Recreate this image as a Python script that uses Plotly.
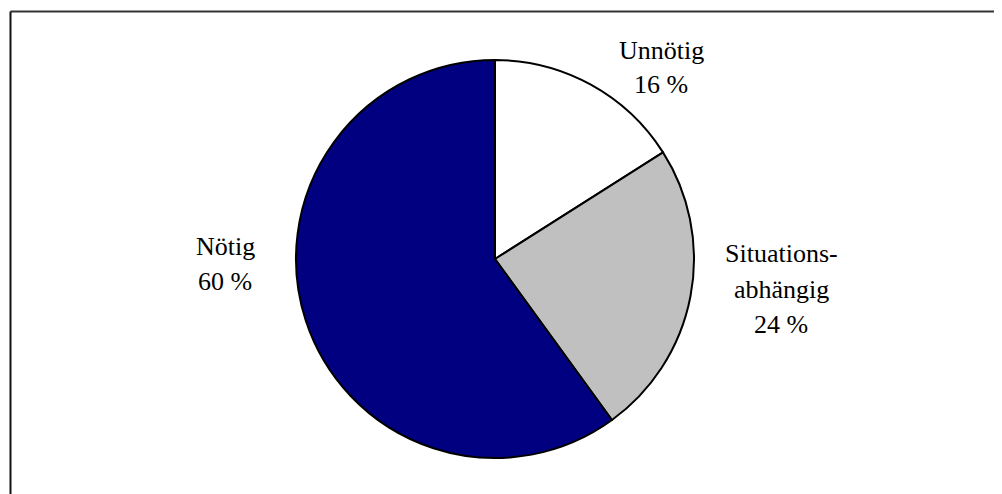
import plotly.graph_objects as go

categories = ["Unnötig", "Situationsabhängig", "Nötig"]
label_lines = [["Unnötig"], ["Situations-", "abhängig"], ["Nötig"]]
values = [16, 24, 60]
colors = ["#FFFFFF", "#C0C0C0", "#000080"]

W, H = 1002, 494
OFF = 8  # page body margin offset
cx, cy, r = 495 - OFF, 259 - OFF, 199

fig = go.Figure()
fig.add_trace(go.Pie(
    labels=categories, values=values, sort=False, direction="clockwise",
    rotation=0, textinfo="none", hoverinfo="skip",
    marker=dict(colors=colors, line=dict(color="#000000", width=2)),
    domain=dict(x=[(cx - r) / W, (cx + r) / W], y=[(H - cy - r) / H, (H - cy + r) / H]),
    showlegend=False,
))

# label anchor positions (pixel centre of first line) and line spacing
label_pos = [(661, 50), (781, 254), (225, 246)]
spacing = 35
font = dict(family="Liberation Serif, Times New Roman, serif", size=26, color="#000000")
anns = []
for lines, v, (x, y) in zip(label_lines, values, label_pos):
    all_lines = lines + [f"{v} %"]
    for i, t in enumerate(all_lines):
        anns.append(dict(text=t, x=(x - OFF) / W, y=1 - (y - OFF + i * spacing) / H,
                         xref="paper", yref="paper",
                         xanchor="center", yanchor="middle", showarrow=False, font=font))

fx, fy = 10.5 - OFF, 11.5 - OFF
shapes = [
    dict(type="line", xref="paper", yref="paper", x0=fx / W, x1=1.02, y0=1 - fy / H, y1=1 - fy / H,
         line=dict(color="#333333", width=2)),
    dict(type="line", xref="paper", yref="paper", x0=fx / W, x1=fx / W, y0=1 - fy / H, y1=-0.05,
         line=dict(color="#111111", width=2)),
]

fig.update_layout(
    width=W, height=H, margin=dict(l=0, r=0, t=0, b=0),
    paper_bgcolor="#FFFFFF", plot_bgcolor="#FFFFFF",
    annotations=anns, shapes=shapes,
)
fig.write_html("out.html")
